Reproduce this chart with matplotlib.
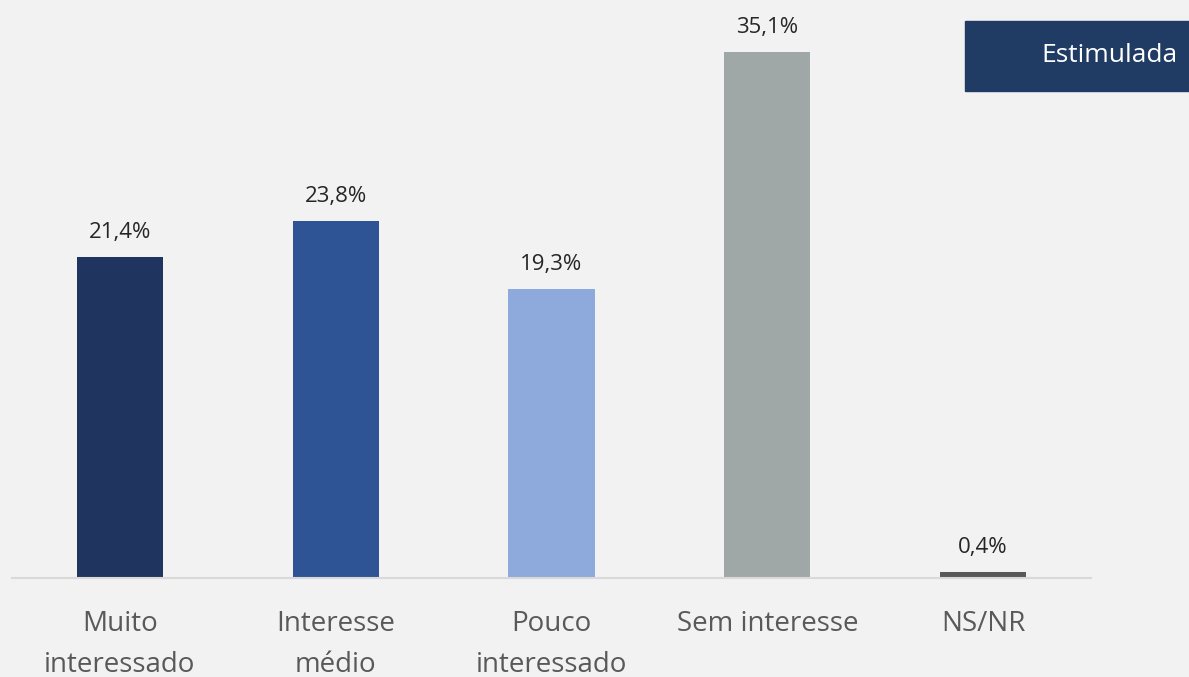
import matplotlib.pyplot as plt
from matplotlib.patches import Rectangle

categories = ["Muito\ninteressado", "Interesse\nmédio", "Pouco\ninteressado", "Sem interesse", "NS/NR"]
values = [21.4, 23.8, 19.3, 35.1, 0.4]
value_labels = ["21,4%", "23,8%", "19,3%", "35,1%", "0,4%"]
colors = ["#1f3560", "#2e5496", "#8eaadc", "#a0a8a7", "#595959"]
legend_text = "Estimulada"

plt.rcParams['font.family'] = ['Open Sans', 'DejaVu Sans']

W, H = 1189, 677
fig = plt.figure(figsize=(W / 100, H / 100), dpi=100, facecolor="#f2f2f2")
ax = fig.add_axes([12 / W, 99 / H, 1079 / W, 578 / H])
ax.set_facecolor("#f2f2f2")

x = list(range(len(values)))
ax.bar(x, values, width=0.4, color=colors)
ax.set_xlim(-0.5, 4.5)
ax.set_ylim(0, 38.56)

for xi, v, lab in zip(x, values, value_labels):
    ax.annotate(lab, (xi, v), xytext=(0, 10), textcoords="offset points",
                ha="center", va="bottom", fontsize=16, color="#262626")

for s in ["top", "right", "left"]:
    ax.spines[s].set_visible(False)
ax.spines["bottom"].set_color("#d9d9d9")
ax.spines["bottom"].set_linewidth(1.5)
ax.set_yticks([])
ax.set_xticks(x)
ax.set_xticklabels(categories, fontsize=20, color="#595959", linespacing=1.6)
ax.tick_params(axis="x", length=0, pad=23)

# legend box top right
fig.patches.append(Rectangle((965 / W, 1 - 91 / H), 240 / W, 70 / H,
                             transform=fig.transFigure, color="#213c64"))
fig.text(1041 / W, 1 - 56 / H, legend_text, color="white", fontsize=19,
         va="center", ha="left")

fig.savefig("out.png", dpi=100, facecolor=fig.get_facecolor())
